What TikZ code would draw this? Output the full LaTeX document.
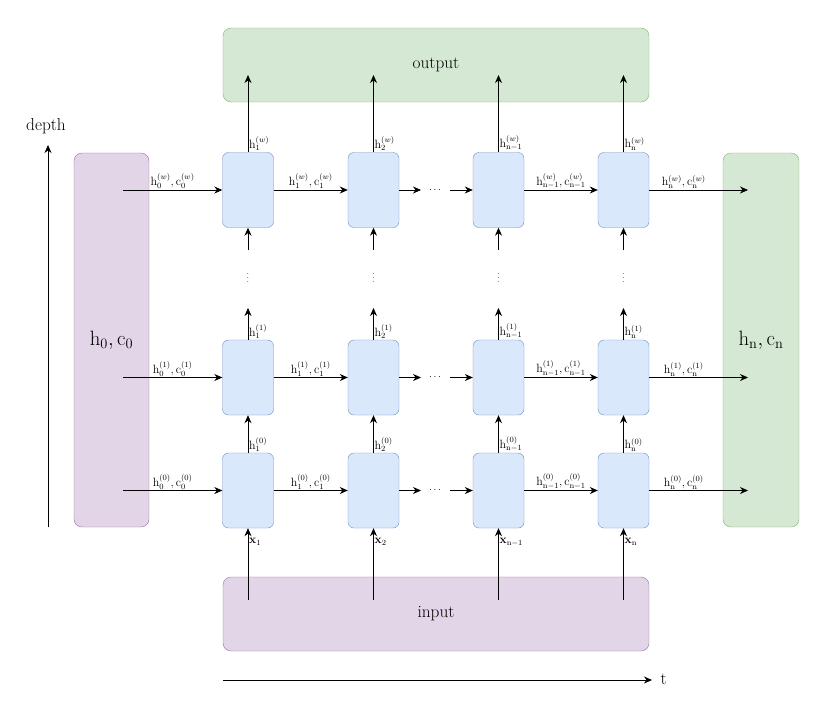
\documentclass[tikz,border=0pt]{standalone}
\usetikzlibrary{arrows.meta}
\begin{document}
\begin{tikzpicture}[x=1pt,y=-1pt,
  cell/.style={draw=cellS,fill=cellF,rounded corners=6pt,minimum width=51pt,minimum height=75pt,inner sep=0pt},
  grn/.style={draw=grnS,fill=grnF,rounded corners=8pt,inner sep=0pt},
  pur/.style={draw=purS,fill=purF,rounded corners=8pt,inner sep=0pt},
  arr/.style={-{Stealth[length=8pt,width=7pt]},line width=0.8pt},
  lab/.style={font=\large,inner sep=1pt}]
\definecolor{cellF}{HTML}{DAE8FC}\definecolor{cellS}{HTML}{6C8EBF}
\definecolor{grnF}{HTML}{D5E8D4}\definecolor{grnS}{HTML}{82B366}
\definecolor{purF}{HTML}{E1D5E7}\definecolor{purS}{HTML}{9673A6}
\useasboundingbox (0,0) rectangle (829,710);
\node[grn,minimum width=426pt,minimum height=74pt,font=\LARGE] (out) at (436,65) {output};
\node[pur,minimum width=426pt,minimum height=74pt,font=\LARGE] (in) at (436,614) {input};
\node[pur,minimum width=75pt,minimum height=374pt,font=\huge] (L) at (111.5,340) {$\mathrm{h}_0,\mathrm{c}_0$};
\node[grn,minimum width=76pt,minimum height=374pt,font=\huge] (R) at (761,340) {$\mathrm{h}_\mathrm{n},\mathrm{c}_\mathrm{n}$};
\foreach \c/\x in {1/248,2/373.5,3/498.5,4/623.5}{
  \foreach \r/\y in {w/190,a/377.5,b/490.5}{
    \node[cell] (c\c\r) at (\x,\y) {};}}
\foreach \r/\y in {w/190,a/377.5,b/490.5}{
  \coordinate (ls\r) at (123,\y);
  \coordinate (re\r) at (748,\y);
  \coordinate (d\r) at (435,\y);
  \coordinate (da\r) at (421,\y);
  \coordinate (db\r) at (450,\y);}
\foreach \r/\s in {w/w,a/1,b/0}{
  \draw[arr] (ls\r) -- node[lab,above]{$\mathrm{h}_0^{(\s)},\mathrm{c}_0^{(\s)}$} (c1\r.west);
  \draw[arr] (c1\r.east) -- node[lab,above]{$\mathrm{h}_1^{(\s)},\mathrm{c}_1^{(\s)}$} (c2\r.west);
  \draw[arr] (c2\r.east) -- (da\r);
  \node[inner sep=0pt] at (d\r) {$\cdots$};
  \draw[arr] (db\r) -- (c3\r.west);
  \draw[arr] (c3\r.east) -- node[lab,above]{$\mathrm{h}_\mathrm{n-1}^{(\s)},\mathrm{c}_\mathrm{n-1}^{(\s)}$} (c4\r.west);
  \draw[arr] (c4\r.east) -- node[lab,above,pos=0.35]{$\mathrm{h}_\mathrm{n}^{(\s)},\mathrm{c}_\mathrm{n}^{(\s)}$} (re\r);
}
\foreach \c/\x/\i in {1/248/1,2/373.5/2,3/498.5/{n-1},4/623.5/n}{
  \coordinate (ot\c) at (\x,75);
  \coordinate (ib\c) at (\x,600);
  \coordinate (vt\c) at (\x,250);
  \coordinate (vb\c) at (\x,308);
  \draw[arr] (c\c w.north) -- (ot\c);
  \node[lab,anchor=south west] at (\x,152) {$\mathrm{h}_\mathrm{\i}^{(w)}$};
  \draw[arr] (vt\c) -- (c\c w.south);
  \node[inner sep=0pt,font=\small] at (\x,275) {$\vdots$};
  \draw[arr] (c\c a.north) -- (vb\c);
  \node[lab,anchor=south west] at (\x,340) {$\mathrm{h}_\mathrm{\i}^{(1)}$};
  \draw[arr] (c\c b.north) -- (c\c a.south);
  \node[lab,anchor=south west] at (\x,453) {$\mathrm{h}_\mathrm{\i}^{(0)}$};
  \draw[arr] (ib\c) -- (c\c b.south);
  \node[lab,anchor=north west] at (\x,537) {$\mathbf{x}_\mathrm{\i}$};
}
\coordinate (dp0) at (48,527); \coordinate (dp1) at (48,145);
\draw[arr] (dp0) -- (dp1);
\node[font=\LARGE] (dl) at (46,126) {depth};
\coordinate (t0) at (223,680); \coordinate (t1) at (652,680);
\draw[arr] (t0) -- (t1);
\node[font=\LARGE,anchor=west] (tl) at (657,679) {t};
\end{tikzpicture}
\end{document}
